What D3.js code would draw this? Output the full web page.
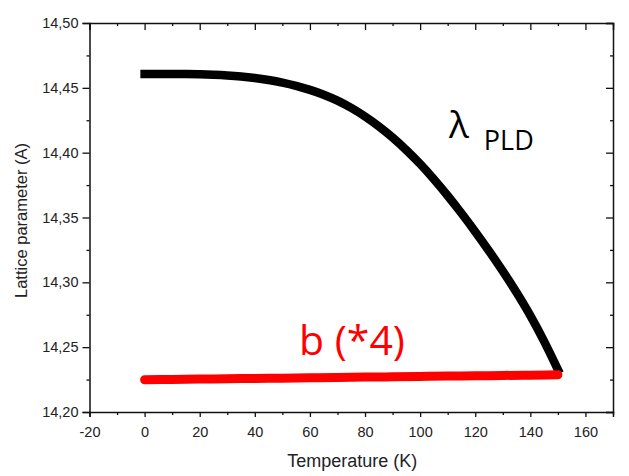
<!DOCTYPE html>
<html lang="en">
<head>
<meta charset="UTF-8">
<title>Lattice parameter vs temperature</title>
<style>
    body { margin: 0; background: #fff; }
    svg { display: block; }
    .tick text { font-family: "Liberation Sans", Arial, sans-serif; font-size: 14.5px; fill: #222; }
    .axis-title { font-family: "Liberation Sans", Arial, sans-serif; fill: #222; }
    .note { font-family: "Open Sans", "Noto Sans", sans-serif; }
</style>
</head>
<body>
<div id="chart"></div>
<script src="https://d3js.org/d3.v7.min.js"></script>
<script>
// temperature (K) for the PLD curve, every 5 K
const tempPld = [0, 5, 10, 15, 20, 25, 30, 35, 40, 45, 50, 55, 60, 65, 70, 75,
    80, 85, 90, 95, 100, 105, 110, 115, 120, 125, 130, 135, 140, 145, 150];
const lambdaPld = [14.4607, 14.4607, 14.4607, 14.4606, 14.4604, 14.4601, 14.4596, 14.4588,
    14.4576, 14.4560, 14.4540, 14.4515, 14.4484, 14.4447, 14.4401, 14.4345,
    14.4279, 14.4203, 14.4117, 14.4020, 14.3913, 14.3795, 14.3668, 14.3533,
    14.3391, 14.3242, 14.3086, 14.2921, 14.2743, 14.2545, 14.2327];

// b lattice parameter times 4, every 10 K
const tempB = [0, 10, 20, 30, 40, 50, 60, 70, 80, 90, 100, 110, 120, 130, 140, 150];
const bTimes4 = [14.2249, 14.2251, 14.2254, 14.2256, 14.2259, 14.2261, 14.2264, 14.2266,
    14.2269, 14.2271, 14.2274, 14.2277, 14.2279, 14.2282, 14.2284, 14.2287];

const xTicks = [-20, 0, 20, 40, 60, 80, 100, 120, 140, 160];
const yTicks = [14.20, 14.25, 14.30, 14.35, 14.40, 14.45, 14.50];

const width = 629, height = 476;
const margin = { top: 23, right: 16, bottom: 64, left: 89.5 };

const svg = d3.select("#chart").append("svg")
    .attr("width", width)
    .attr("height", height);

const x = d3.scaleLinear().domain([-20, 170]).range([margin.left, width - margin.right]);
const y = d3.scaleLinear().domain([14.20, 14.50]).range([height - margin.bottom, margin.top]);

const fmtY = d => d3.format(".2f")(d).replace(".", ",");
const fmtX = d => String(d);   // plain hyphen, like the original
const xMinor = d3.range(-20, 171, 10).filter(v => v % 20 !== 0);
const yMinor = d3.range(14.225, 14.5, 0.05);

function styleAxis(g) {
    g.select(".domain").attr("stroke", "#111").attr("stroke-width", 1.5);
    g.selectAll(".tick line").attr("stroke", "#111").attr("stroke-width", 1.3);
}

// bottom / left: ticks out, labelled
svg.append("g")
    .attr("transform", `translate(0,${y.range()[0]})`)
    .call(d3.axisBottom(x).tickValues(xTicks).tickFormat(fmtX).tickSizeOuter(0).tickSize(5).tickPadding(10))
    .call(styleAxis);
svg.append("g")
    .attr("transform", `translate(0,${y.range()[0]})`)
    .call(d3.axisBottom(x).tickValues(xMinor).tickSize(3).tickFormat(""))
    .call(styleAxis)
    .select(".domain").remove();

svg.append("g")
    .attr("transform", `translate(${x.range()[0]},0)`)
    .call(d3.axisLeft(y).tickValues(yTicks).tickFormat(fmtY).tickSizeOuter(0).tickSize(7).tickPadding(4))
    .call(styleAxis);
svg.append("g")
    .attr("transform", `translate(${x.range()[0]},0)`)
    .call(d3.axisLeft(y).tickValues(yMinor).tickSize(3).tickFormat(""))
    .call(styleAxis)
    .select(".domain").remove();

// top / right: ticks in, no labels
svg.append("g")
    .attr("transform", `translate(0,${y.range()[1]})`)
    .call(d3.axisTop(x).tickValues(xTicks).tickFormat("").tickSizeOuter(0).tickSize(-7))
    .call(styleAxis);
svg.append("g")
    .attr("transform", `translate(0,${y.range()[1]})`)
    .call(d3.axisTop(x).tickValues(xMinor).tickFormat("").tickSize(-3))
    .call(styleAxis)
    .select(".domain").remove();

svg.append("g")
    .attr("transform", `translate(${x.range()[1]},0)`)
    .call(d3.axisRight(y).tickValues(yTicks).tickFormat("").tickSizeOuter(0).tickSize(-7))
    .call(styleAxis);
svg.append("g")
    .attr("transform", `translate(${x.range()[1]},0)`)
    .call(d3.axisRight(y).tickValues(yMinor).tickFormat("").tickSize(-3))
    .call(styleAxis)
    .select(".domain").remove();

// axis titles
svg.append("text")
    .attr("class", "axis-title")
    .attr("font-size", 18)
    .attr("x", d3.mean(x.range()) + 1)
    .attr("y", 467)
    .attr("text-anchor", "middle")
    .text("Temperature (K)");

svg.append("text")
    .attr("class", "axis-title")
    .attr("font-size", 16.5)
    .attr("transform", `translate(27,${d3.mean(y.range()) + 3}) rotate(-90)`)
    .attr("text-anchor", "middle")
    .text("Lattice parameter (A)");

// both series are drawn as dense marker runs in the original, so a thick line reads the same
const pld = tempPld.map((t, i) => ({ t, v: lambdaPld[i] }));
const bData = tempB.map((t, i) => ({ t, v: bTimes4[i] }));

const line = d3.line().x(d => x(d.t)).y(d => y(d.v)).curve(d3.curveMonotoneX);

// lambda PLD: black squares
svg.append("path")
    .datum(pld)
    .attr("fill", "none")
    .attr("stroke", "#000")
    .attr("stroke-width", 8.5)
    .attr("stroke-linecap", "square")
    .attr("d", line);

// b (*4): red circles
svg.append("path")
    .datum(bData)
    .attr("fill", "none")
    .attr("stroke", "#ff0000")
    .attr("stroke-width", 9)
    .attr("stroke-linecap", "round")
    .attr("d", line);

// labels
const lam = svg.append("text")
    .attr("class", "note")
    .attr("x", 449)
    .attr("y", 138)
    .attr("fill", "#000");
lam.append("tspan").attr("font-size", 37).text("λ");
lam.append("tspan").attr("font-size", 27).attr("dx", 15).attr("dy", 12).text("PLD");

svg.append("text")
    .attr("class", "note")
    .attr("x", 299)
    .attr("y", 355)
    .attr("font-size", 41)
    .attr("fill", "#ff0000")
    .text("b (*4)");
</script>
</body>
</html>
